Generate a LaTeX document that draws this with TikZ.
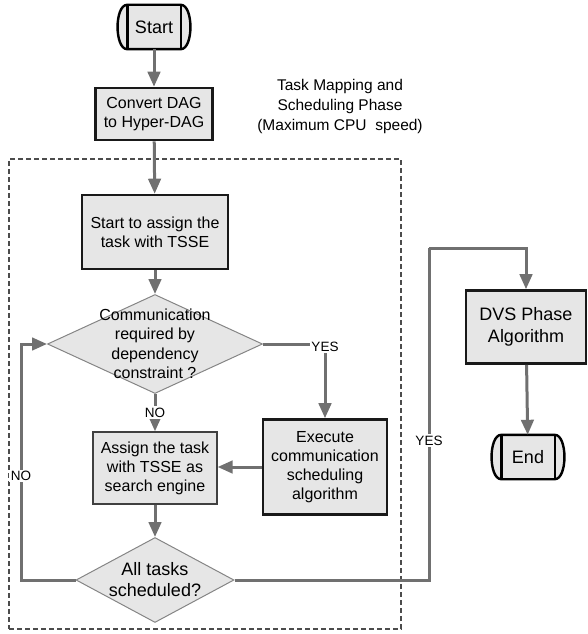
\documentclass[tikz,border=0pt]{standalone}
\usepackage{fontspec}
\setmainfont{Liberation Sans}
\usetikzlibrary{arrows.meta,shapes.geometric,backgrounds}
\definecolor{boxfill}{HTML}{E6E6E6}
\definecolor{linkgray}{HTML}{707070}
\definecolor{edgegray}{HTML}{858585}
\tikzset{
  procbox/.style={draw=black!90,line width=2.6pt,fill=boxfill,align=center,
    font=\fontsize{16}{19}\selectfont,inner sep=0pt},
  thinbox/.style={procbox,draw=black!75,line width=1.3pt},
  decision/.style={diamond,draw=edgegray,line width=1pt,fill=boxfill,inner sep=0pt},
  decisiontext/.style={align=center,font=\fontsize{16}{19.5}\selectfont,inner sep=0pt},
  terminal/.style={align=center,font=\fontsize{18}{20}\selectfont,inner sep=0pt,
    minimum width=53pt,minimum height=44pt},
  link/.style={draw=linkgray,line width=3pt,-{Triangle[length=15pt,width=12.5pt]}},
  plainlink/.style={draw=linkgray,line width=3pt},
  answer/.style={fill=white,inner sep=1.5pt,font=\fontsize{13.5}{15}\selectfont},
  phasebox/.style={draw=black!70,line width=1.1pt,dash pattern=on 5pt off 3pt}
}
\begin{document}
\begin{tikzpicture}[x=1pt,y=-1pt]
\useasboundingbox (0,0) rectangle (587,634);

% phase frame and its title
\node[phasebox,minimum width=392pt,minimum height=470pt] (phase) at (205,394) {};
\node[align=center,font=\fontsize{15.5}{20}\selectfont] (phasetitle) at (340,106)
  {Task Mapping and\\Scheduling Phase\\(Maximum CPU~~speed)};

% terminals
\node[terminal] (start) at (154,27) {Start};
\node[terminal] (end) at (528,457) {End};
\begin{scope}[on background layer]
\foreach \n in {start,end}{
  \draw[line width=2.4pt,fill=boxfill] (\n.north west) -- (\n.north east)
    .. controls +(13,0) and +(13,0) .. (\n.south east) -- (\n.south west)
    .. controls +(-13,0) and +(-13,0) .. cycle;
  \draw[line width=2.4pt] (\n.north west) -- (\n.south west)
    (\n.north east) -- (\n.south east);
}
\end{scope}

% process steps
\node[procbox,minimum width=117pt,minimum height=52pt] (convert) at (154,114)
  {Convert DAG\\to Hyper-DAG};
\node[procbox,minimum width=146pt,minimum height=74pt] (assignstart) at (155,232)
  {Start to assign the\\task with TSSE};
\node[decision,minimum width=215pt,minimum height=99pt,
  label={[decisiontext]center:Communication\\required by\\dependency\\constraint ?}]
  (comm) at (155,344) {};
\node[thinbox,minimum width=124pt,minimum height=72pt] (assign) at (155,468)
  {Assign the task\\with TSSE as\\search engine};
\node[procbox,minimum width=124pt,minimum height=95pt] (exec) at (325,467)
  {Execute\\communication\\scheduling\\algorithm};
\node[decision,minimum width=158pt,minimum height=85pt,
  label={[decisiontext,font=\fontsize{18}{21}\selectfont]center:All tasks\\scheduled?}]
  (alldone) at (155,580) {};
\node[procbox,font=\fontsize{18}{22}\selectfont,minimum width=120pt,minimum height=73pt]
  (dvs) at (526,327) {DVS Phase\\Algorithm};

\coordinate (noturn) at (21,580);
\coordinate (yesup) at (429,580);
\coordinate (yestop) at (429,248);

% connectors
\draw[link] (start) -- (convert);
\draw[link] (convert) -- (assignstart);
\draw[link] (assignstart) -- (comm);
\draw[link] (comm.east) -| node[answer,pos=0.5,yshift=-3pt] {YES} (exec.north);
\draw[link] (comm.south) -- node[answer] {NO} (assign.north);
\draw[link] (exec.west) -- (exec.west -| assign.east);
\draw[link] (assign) -- (alldone);
\draw[link] (alldone.west) -- (noturn) |- node[answer,pos=0.22] {NO} (comm.west);
\draw[plainlink] (alldone.east) -- (yesup) -- node[answer,pos=0.42] {YES} (yestop);
\draw[link] (yestop) -| (dvs.north);
\draw[link] (dvs) -- (end);
\end{tikzpicture}
\end{document}
